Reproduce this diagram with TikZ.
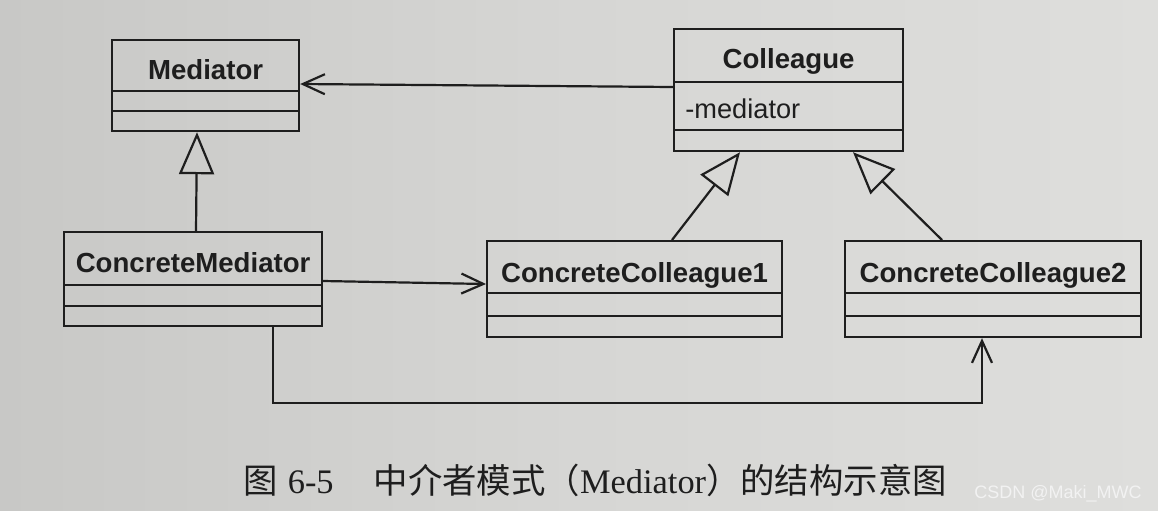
\documentclass[tikz,border=0pt]{standalone}
\usepackage{fontspec}
\setmainfont{Liberation Serif}
\newfontfamily\arialfont{Liberation Sans}
\newfontfamily\cjk{Noto Sans CJK SC}
\usetikzlibrary{arrows.meta}
\definecolor{bgL}{RGB}{200,200,198}
\definecolor{bgM}{RGB}{214,214,212}
\definecolor{bgR}{RGB}{222,222,220}
\definecolor{ink}{RGB}{30,30,30}
\tikzset{
  cls/.style={draw=ink, line width=1.1pt, rectangle, inner sep=0pt, anchor=north west},
  divider/.style={draw=ink, line width=1.1pt},
  lbl/.style={text=ink, inner sep=0pt, anchor=base, font=\arialfont\fontsize{13.8pt}{16pt}\selectfont\bfseries},
  attr/.style={text=ink, inner sep=0pt, anchor=base west, font=\arialfont\fontsize{13.6pt}{16pt}\selectfont},
  inherit/.style={draw=ink, line width=1.1pt, -{Triangle[open, length=21pt, width=17.5pt, line width=1.1pt]}},
  assoc/.style={draw=ink, line width=1.1pt, -{Straight Barb[length=11pt, width=10pt, line width=1.1pt]}},
}
\begin{document}
\begin{tikzpicture}[x=0.5pt, y=-0.5pt]
  \useasboundingbox (0,0) rectangle (1158,510);
  \shade[left color=bgL, right color=bgR, middle color=bgM] (0,0) rectangle (1158,510);

  % Mediator
  \node[cls, minimum width=93.5pt, minimum height=45.5pt] (med) at (111,39) {};
  \draw[divider] (med.west |- 0,91) -- (med.east |- 0,91);
  \draw[divider] (med.west |- 0,111) -- (med.east |- 0,111);
  \node[lbl] (medt) at (med.north |- 0,79) {Mediator};

  % ConcreteMediator
  \node[cls, minimum width=129pt, minimum height=47pt] (cm) at (63,231) {};
  \draw[divider] (cm.west |- 0,285) -- (cm.east |- 0,285);
  \draw[divider] (cm.west |- 0,306) -- (cm.east |- 0,306);
  \node[lbl] (cmt) at (cm.north |- 0,272) {ConcreteMediator};

  % Colleague
  \node[cls, minimum width=114.5pt, minimum height=61pt] (col) at (673,28) {};
  \draw[divider] (col.west |- 0,82) -- (col.east |- 0,82);
  \draw[divider] (col.west |- 0,130) -- (col.east |- 0,130);
  \node[lbl] (colt) at (col.north |- 0,68) {Colleague};
  \node[attr] (cola) at (685,118) {-mediator};

  % ConcreteColleague1
  \node[cls, minimum width=147.5pt, minimum height=48pt] (cc1) at (486,240) {};
  \draw[divider] (cc1.west |- 0,293) -- (cc1.east |- 0,293);
  \draw[divider] (cc1.west |- 0,316) -- (cc1.east |- 0,316);
  \node[lbl] (cc1t) at (cc1.north |- 0,282) {ConcreteColleague1};

  % ConcreteColleague2
  \node[cls, minimum width=148pt, minimum height=48pt] (cc2) at (844,240) {};
  \draw[divider] (cc2.west |- 0,293) -- (cc2.east |- 0,293);
  \draw[divider] (cc2.west |- 0,316) -- (cc2.east |- 0,316);
  \node[lbl] (cc2t) at (cc2.north |- 0,282) {ConcreteColleague2};

  % connectors
  \draw[assoc] (col.west |- 0,87) -- (med.east |- 0,84);
  \draw[inherit] (196,0 |- cm.north) -- (197,0 |- med.south);
  \draw[inherit] (672,0 |- cc1.north) -- (740,0 |- col.south);
  \draw[inherit] (942,0 |- cc2.north) -- (853,0 |- col.south);
  \draw[assoc] (cm.east |- 0,281) -- (cc1.west |- 0,284);
  \coordinate (bend) at (273,403);
  \draw[assoc] (bend |- cm.south) -- (bend) -| (cc2.south -| 982,0);

  % caption
  \node[inner sep=0pt, anchor=base west, text=ink, font=\fontsize{17.2pt}{20pt}\selectfont] (cap) at (243,493)
    {{\cjk 图}\hspace{5pt}6-5\hspace{20pt}{\cjk 中介者模式（}Mediator{\cjk ）的结构示意图}};
  \node[inner sep=0pt, anchor=base east, text=white!95!black, font=\arialfont\fontsize{9pt}{11pt}\selectfont] (wm) at (1142,498) {CSDN @Maki\_MWC};
\end{tikzpicture}
\end{document}
